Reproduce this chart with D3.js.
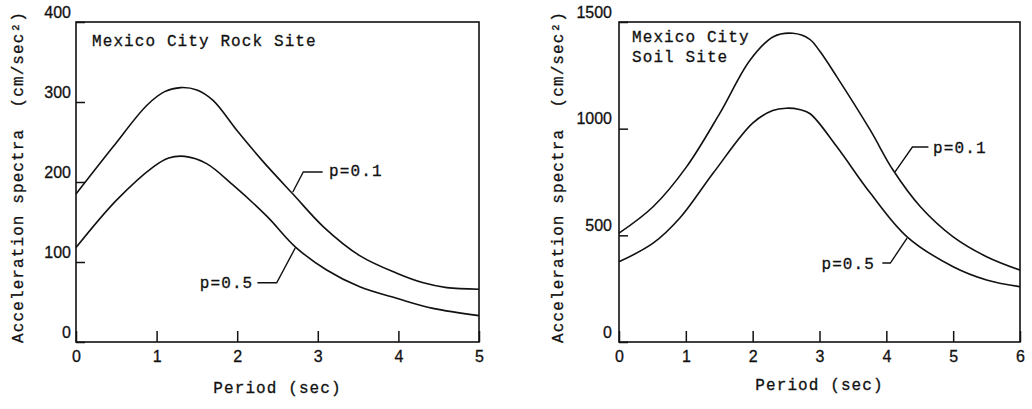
<!DOCTYPE html>
<html>
<head>
<meta charset="utf-8">
<script src="https://cdn.jsdelivr.net/npm/d3@7"></script>
<style>
  body { margin: 0; background: #fff; }
  svg { font-family: "Liberation Mono", "DejaVu Sans Mono", monospace; }
  .frame { fill: none; stroke: #111; stroke-width: 1.6; }
  .line { fill: none; stroke: #111; stroke-width: 1.6; }
  .leader { fill: none; stroke: #111; stroke-width: 1.4; }
  .tick line { stroke: #111; stroke-width: 1.5; }
  .tick text { font-size: 16px; fill: #111; stroke: #111; stroke-width: 0.3; }
  .lbl { font-size: 16px; fill: #111; stroke: #111; stroke-width: 0.3; letter-spacing: 1.1px; white-space: pre; }
</style>
</head>
<body>
<script>
// rock site data (period in sec, acceleration in cm/sec^2)
var rockPeriod = [0, 0.46, 0.88, 1.1, 1.3, 1.5, 1.7, 2.0, 2.3, 2.7, 3.07, 3.52, 3.98, 4.31, 4.6, 5];
var rockP01    = [185, 244, 296, 313, 318, 315, 302, 264, 228, 184, 144, 108, 86, 74, 68, 66];
var rockPeriod2 = [0, 0.5, 0.96, 1.15, 1.35, 1.62, 1.95, 2.37, 2.72, 3.11, 3.52, 4.0, 4.43, 5];
var rockP05     = [118, 177, 219, 230, 232, 223, 196, 157, 119, 90, 69, 54, 42, 33];

// soil site data
var soilPeriod = [0, 0.51, 1.01, 1.51, 1.96, 2.31, 2.6, 2.85, 3.0, 3.26, 3.76, 4.1, 4.51, 5.0, 5.5, 6];
var soilP01    = [510, 634, 821, 1073, 1321, 1431, 1447, 1420, 1365, 1243, 993, 806, 634, 493, 400, 337];
var soilPeriod2 = [0, 0.51, 0.91, 1.41, 2.0, 2.3, 2.5, 2.7, 2.86, 3.26, 3.76, 4.31, 5.0, 5.5, 6];
var soilP05     = [376, 463, 581, 792, 1026, 1085, 1096, 1090, 1070, 915, 698, 493, 353, 291, 259];

var rockXTicks = [0, 1, 2, 3, 4, 5];
var rockYTicks = [0, 100, 200, 300, 400];
var soilXTicks = [0, 1, 2, 3, 4, 5, 6];
var soilYTicks = [0, 500, 1000, 1500];

var svg = d3.select("body").append("svg")
    .attr("width", 1032)
    .attr("height", 409);

function drawPanel(p) {
    var x = d3.scaleLinear().domain(p.xDomain).range(p.xRange);
    var y = d3.scaleLinear().domain(p.yDomain).range([342, 22]);

    var line = d3.line()
        .x(function(d) { return x(d[0]); })
        .y(function(d) { return y(d[1]); })
        .curve(d3.curveCatmullRom.alpha(0.5));

    // frame
    svg.append("rect")
        .attr("class", "frame")
        .attr("x", p.xRange[0]).attr("y", 22)
        .attr("width", p.xRange[1] - p.xRange[0])
        .attr("height", 320);

    // x axis, ticks pointing inward
    var gx = svg.append("g")
        .attr("transform", "translate(0,342)")
        .call(d3.axisBottom(x).tickValues(p.xTicks).tickFormat(d3.format("d")).tickSize(-11));
    gx.select(".domain").remove();
    gx.selectAll(".tick text").attr("y", 9).attr("dy", "0.71em");

    var gy = svg.append("g")
        .attr("transform", "translate(" + p.xRange[0] + ",0)")
        .call(d3.axisLeft(y).tickValues(p.yTicks).tickFormat(d3.format("d")).tickSize(-9));
    gy.select(".domain").remove();
    gy.selectAll(".tick text").attr("x", p.yLabelGap).attr("dy", "-0.3em");

    svg.append("path").datum(d3.zip(p.x1, p.y1)).attr("class", "line").attr("d", line);
    svg.append("path").datum(d3.zip(p.x2, p.y2)).attr("class", "line").attr("d", line);

    // leader lines and labels
    p.leaders.forEach(function(l) {
        svg.append("path")
            .attr("class", "leader")
            .attr("d", d3.line()(l.pts.map(function(d) { return [x(d[0]), y(d[1])]; })));
        svg.append("text")
            .attr("class", "lbl")
            .attr("x", x(l.at[0])).attr("y", y(l.at[1]))
            .attr("dy", "0.35em")
            .attr("text-anchor", l.anchor)
            .text(l.text);
    });

    // titles
    p.title.forEach(function(t, i) {
        svg.append("text")
            .attr("class", "lbl")
            .attr("x", p.xRange[0] + p.titleDx)
            .attr("y", p.titleY + i * 20)
            .text(t);
    });

    svg.append("text")
        .attr("class", "lbl")
        .attr("x", (p.xRange[0] + p.xRange[1]) / 2)
        .attr("y", p.xTitleY)
        .attr("text-anchor", "middle")
        .text("Period (sec)");

    svg.append("text")
        .attr("class", "lbl")
        .attr("transform", "translate(" + p.yTitleX + ",177) rotate(-90)")
        .attr("text-anchor", "middle")
        .attr("dy", "0.35em")
        .text("Acceleration spectra  (cm/sec²)");
}

drawPanel({
    xDomain: [0, 5], xRange: [76, 479], yDomain: [0, 400],
    xTicks: rockXTicks, yTicks: rockYTicks, yLabelGap: -5,
    x1: rockPeriod, y1: rockP01, x2: rockPeriod2, y2: rockP05,
    title: ["Mexico City Rock Site"], titleDx: 16, titleY: 46,
    xTitleY: 393, yTitleX: 17,
    leaders: [
        {pts: [[2.69, 187.5], [2.82, 212.5], [3.06, 212.5]], at: [3.14, 214], anchor: "start", text: "p=0.1"},
        {pts: [[2.25, 74], [2.49, 74], [2.72, 117.5]], at: [2.2, 74], anchor: "end", text: "p=0.5"}
    ]
});

drawPanel({
    xDomain: [0, 6], xRange: [619, 1020], yDomain: [0, 1500],
    xTicks: soilXTicks, yTicks: soilYTicks, yLabelGap: -7,
    x1: soilPeriod, y1: soilP01, x2: soilPeriod2, y2: soilP05,
    title: ["Mexico City", "Soil Site"], titleDx: 13, titleY: 42,
    xTitleY: 390, yTitleX: 557,
    leaders: [
        {pts: [[4.13, 797], [4.39, 914], [4.63, 914]], at: [4.7, 914], anchor: "start", text: "p=0.1"},
        {pts: [[3.94, 370], [4.06, 370], [4.31, 487]], at: [3.83, 370], anchor: "end", text: "p=0.5"}
    ]
});
</script>
</body>
</html>
